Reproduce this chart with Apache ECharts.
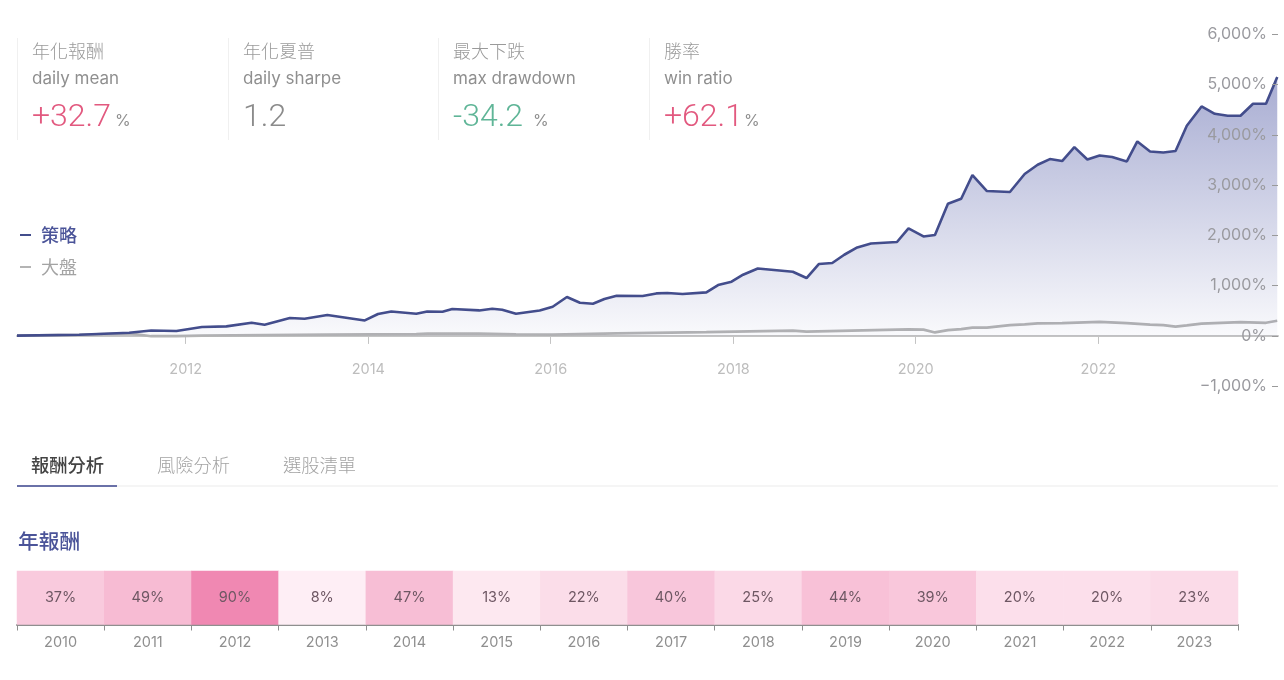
<!DOCTYPE html>
<html>
<head>
<meta charset="utf-8">
<style>
  html, body { margin: 0; padding: 0; background: #fff; }
  #main { width: 1284px; height: 680px; }
</style>
<script src="https://cdn.jsdelivr.net/npm/echarts@6/dist/echarts.min.js"></script>
</head>
<body>
<div id="main"></div>
<script>
// 績效走勢 (累積報酬 %)
const strategyDates = ['2010-02-25','2010-11-01','2011-05-20','2011-08-16','2011-11-25','2012-03-06','2012-06-12','2012-09-21','2012-11-12','2013-02-21','2013-04-21','2013-07-21','2013-12-18','2014-02-09','2014-04-03','2014-07-12','2014-08-25','2014-10-25','2014-12-03','2015-03-21','2015-05-12','2015-06-21','2015-08-15','2015-11-18','2016-01-09','2016-03-06','2016-04-27','2016-06-18','2016-08-03','2016-09-21','2017-01-03','2017-02-27','2017-04-12','2017-06-12','2017-09-15','2017-11-01','2017-12-25','2018-02-09','2018-04-09','2018-08-27','2018-10-21','2018-12-09','2019-02-01','2019-03-21','2019-05-12','2019-07-06','2019-10-18','2019-12-03','2020-02-01','2020-03-18','2020-05-09','2020-07-01','2020-08-15','2020-10-12','2021-01-12','2021-03-12','2021-05-03','2021-06-21','2021-08-09','2021-09-27','2021-11-18','2022-01-06','2022-02-25','2022-04-25','2022-06-06','2022-07-27','2022-09-18','2022-11-06','2022-12-21','2023-02-18','2023-04-12','2023-06-03','2023-07-24','2023-09-12','2023-11-03','2023-12-18'];
const strategyValues = [5,24,64,109,97,177,189,262,223,356,342,416,308,435,487,441,487,481,535,507,541,521,441,507,580,773,660,640,734,799,793,845,853,833,865,1012,1078,1217,1342,1276,1151,1429,1449,1614,1759,1839,1867,2137,1978,2006,2628,2728,3199,2881,2861,3219,3404,3517,3477,3755,3509,3589,3557,3469,3867,3668,3648,3676,4179,4563,4417,4378,4378,4616,4616,5147];
const marketDates = ['2010-02-25','2010-11-01','2011-05-20','2011-08-16','2011-11-25','2012-03-06','2012-11-12','2013-07-21','2014-07-12','2014-08-25','2015-03-21','2015-08-15','2016-01-09','2016-09-21','2017-09-15','2018-08-27','2018-10-21','2019-10-18','2019-12-03','2020-02-01','2020-03-18','2020-05-09','2020-07-01','2020-08-15','2020-10-12','2021-01-12','2021-03-12','2021-05-03','2021-08-09','2022-01-06','2022-04-25','2022-07-27','2022-09-18','2022-11-06','2022-12-21','2023-02-18','2023-07-24','2023-11-03','2023-12-18'];
const marketValues = [5,24,50,-5,-5,5,15,25,35,45,45,30,25,50,75,105,85,125,130,125,70,115,135,165,165,215,230,250,255,280,255,225,215,185,210,245,275,260,300];
const yearTicks = ['2012-01-01','2014-01-01','2016-01-01','2018-01-01','2020-01-01','2022-01-01'];

// 年報酬
const years = ['2010','2011','2012','2013','2014','2015','2016','2017','2018','2019','2020','2021','2022','2023'];
const yearlyReturns = [37,49,90,8,47,13,22,40,25,44,39,20,20,23];

// 指標卡
const kpiTitles = ['年化報酬','年化夏普','最大下跌','勝率'];
const kpiNames = ['daily mean','daily sharpe','max drawdown','win ratio'];
const kpiValues = ['+32.7','1.2','-34.2','+62.1'];
const kpiUnits = ['%','','%','%'];
const kpiColors = ['#e2597f','#8b8b8b','#5fb597','#e2597f'];
const kpiLefts = [17,228,438,649];
const kpiUnitLefts = [115,0,533,744];

const tabs = ['報酬分析','風險分析','選股清單'];
const tabLefts = [31,157,283];

const cjk = '"Noto Sans CJK TC", sans-serif';
const latin = 'Inter, "Noto Sans CJK TC", sans-serif';
const bigNum = 'Roboto, sans-serif';

const graphics = [];
kpiTitles.forEach((t, i) => {
  const x = kpiLefts[i];
  graphics.push({ type: 'rect', shape: { x: x, y: 38, width: 1, height: 102 }, style: { fill: '#f0f0f0' } });
  graphics.push({ type: 'text', x: x + 15, y: 51, style: { text: t, font: '300 18px ' + cjk, fill: '#9a9a9a', verticalAlign: 'middle' } });
  graphics.push({ type: 'text', x: x + 15, y: 79, style: { text: kpiNames[i], font: '400 17px ' + latin, fill: '#8f8f8f', verticalAlign: 'middle' } });
  graphics.push({ type: 'text', x: x + 15, y: 118, style: { text: kpiValues[i], font: '300 32px ' + bigNum, fill: kpiColors[i], verticalAlign: 'middle' } });
  if (kpiUnits[i]) {
    graphics.push({ type: 'text', x: kpiUnitLefts[i], y: 121, style: { text: kpiUnits[i], font: '400 16px ' + latin, fill: '#8f8f8f', verticalAlign: 'middle' } });
  }
});
tabs.forEach((t, i) => {
  graphics.push({ type: 'text', x: tabLefts[i], y: 465, style: { text: t, font: (i === 0 ? '500' : '300') + ' 18.3px ' + cjk, fill: i === 0 ? '#444444' : '#a3a3a3', verticalAlign: 'middle' } });
});
graphics.push({ type: 'rect', shape: { x: 17, y: 485.5, width: 1261, height: 1 }, style: { fill: '#ececec' } });
graphics.push({ type: 'rect', shape: { x: 17, y: 485, width: 100, height: 2 }, style: { fill: '#6a71a8' } });
graphics.push({ type: 'text', x: 18, y: 541, style: { text: '年報酬', font: '500 20.7px ' + cjk, fill: '#4b5499', verticalAlign: 'middle' } });

const toTime = (d) => Date.parse(d);

const chart = echarts.init(document.getElementById('main'));
chart.setOption({
  animation: false,
  backgroundColor: '#fff',
  textStyle: { fontFamily: latin },
  graphic: graphics,
  legend: {
    orient: 'vertical',
    left: 15,
    top: 219,
    itemWidth: 11,
    itemHeight: 2,
    itemGap: 10,
    icon: 'rect',
    textStyle: { fontSize: 18, lineHeight: 22, fontFamily: cjk, padding: [0, 0, 0, 5] },
    selectedMode: false,
    data: [
      { name: '策略', textStyle: { color: '#4b5499', fontWeight: 500 } },
      { name: '大盤', textStyle: { color: '#a3a3a3' } }
    ]
  },
  grid: [
    { left: 17, right: 6, top: 34.2, height: 352 },
    { left: 17, width: 1221, top: 571, height: 53.5 }
  ],
  xAxis: [
    {
      type: 'value',
      gridIndex: 0,
      min: toTime('2010-02-25'),
      max: toTime('2023-12-21'),
      axisLine: { onZero: true, lineStyle: { color: '#c4c4c4', width: 2 } },
      axisTick: { customValues: yearTicks.map(toTime), length: 8, lineStyle: { color: '#c4c4c4' } },
      axisLabel: {
        customValues: yearTicks.map(toTime),
        margin: -24,
        fontSize: 14.5,
        color: '#bdbdbd',
        hideOverlap: false,
        formatter: (v) => String(new Date(v).getUTCFullYear())
      },
      splitLine: { show: false }
    },
    {
      type: 'category',
      gridIndex: 1,
      data: years,
      axisLine: { lineStyle: { color: '#8f8f8f', width: 2 } },
      axisTick: { show: true, length: 6, lineStyle: { color: '#8f8f8f' } },
      axisLabel: { fontSize: 14.5, color: '#8f8f8f', margin: 11 },
      splitArea: { show: false }
    }
  ],
  yAxis: [
    {
      type: 'value',
      gridIndex: 0,
      position: 'right',
      min: -1000,
      max: 6000,
      interval: 1000,
      z: 6,
      axisLine: { show: false },
      axisTick: { show: true, inside: true, length: 6, lineStyle: { color: '#9a9a9a' } },
      axisLabel: {
        inside: true,
        margin: 11,
        fontSize: 16,
        color: '#9a9a9f',
        padding: [2, 0, 0, 0],
        formatter: (v) => (v < 0 ? '\u2212' : '') + Math.abs(v).toLocaleString('en-US') + '%'
      },
      splitLine: { show: false }
    },
    {
      type: 'category',
      gridIndex: 1,
      data: [''],
      axisLine: { show: false },
      axisTick: { show: false },
      axisLabel: { show: false }
    }
  ],
  visualMap: {
    show: false,
    seriesIndex: 2,
    dimension: 2,
    min: 0,
    max: 90,
    inRange: { color: ['#fff8fb', '#f088b2'] }
  },
  series: [
    {
      name: '大盤',
      type: 'line',
      xAxisIndex: 0,
      yAxisIndex: 0,
      symbol: 'none',
      z: 2,
      lineStyle: { color: '#b4b4b4', width: 2.6 },
      itemStyle: { color: '#b4b4b4' },
      data: marketDates.map((d, i) => [toTime(d), marketValues[i]])
    },
    {
      name: '策略',
      type: 'line',
      xAxisIndex: 0,
      yAxisIndex: 0,
      symbol: 'none',
      z: 3,
      lineStyle: { color: '#434d8c', width: 2.6 },
      itemStyle: { color: '#434d8c' },
      areaStyle: {
        opacity: 1,
        color: new echarts.graphic.LinearGradient(0, 0, 0, 1, [
          { offset: 0, color: 'rgba(70,80,160,0.47)' },
          { offset: 1, color: 'rgba(70,80,160,0.03)' }
        ])
      },
      data: strategyDates.map((d, i) => [toTime(d), strategyValues[i]])
    },
    {
      name: '年報酬',
      type: 'heatmap',
      xAxisIndex: 1,
      yAxisIndex: 1,
      label: {
        show: true,
        fontSize: 14.5,
        color: '#6e5763',
        formatter: (p) => p.value[2] + '%'
      },
      data: years.map((y, i) => [i, 0, yearlyReturns[i]])
    }
  ]
});
</script>
</body>
</html>
